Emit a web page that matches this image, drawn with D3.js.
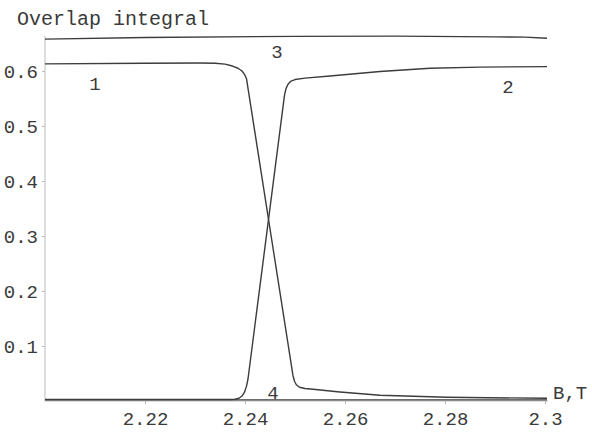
<!DOCTYPE html>
<meta charset="utf-8">
<title>Overlap integral vs B</title>
<style>
body { margin: 0; background: #fff; }
text { font-family: "Liberation Mono", "DejaVu Sans Mono", monospace; fill: #3a3a3a; }
.axis path, .axis line { fill: none; stroke: #bbb; stroke-width: 1; }
.axis text { font-size: 19px; }
.curve { fill: none; stroke: #3c3c3c; stroke-width: 1.4; stroke-linejoin: round; }
.lbl { font-size: 19px; }
</style>
<svg class="chart" width="592" height="432"></svg>
<script src="https://cdn.jsdelivr.net/npm/d3@7"></script>
<script>

// curve data: [B (T), overlap integral]
var curve1 = [[2.200,0.613],[2.220,0.6142],[2.231,0.6145],[2.234,0.614],[2.236,0.6125],[2.2375,0.609],
  [2.2386,0.605],[2.2394,0.600],[2.2399,0.594],[2.2403,0.586],[2.2496,0.046],[2.2499,0.036],[2.2503,0.029],
  [2.2509,0.025],[2.2520,0.0228],[2.2536,0.0213],[2.259,0.0164],[2.267,0.0105],[2.2804,0.0067],[2.3004,0.0049]];
var curve2 = [[2.200,0.0027],[2.237,0.0027],[2.2380,0.0032],[2.2388,0.0050],[2.2394,0.0090],[2.2399,0.0160],
  [2.2403,0.027],[2.2406,0.040],[2.2479,0.556],[2.2482,0.568],[2.2486,0.576],[2.2491,0.581],[2.2500,0.5845],
  [2.2520,0.587],[2.257,0.591],[2.267,0.599],[2.277,0.605],[2.287,0.607],[2.3004,0.608]];
var curve3 = [[2.200,0.658],[2.220,0.661],[2.250,0.663],[2.270,0.6635],[2.290,0.662],[2.296,0.6615],[2.3004,0.6595]];
var curve4 = [[2.200,0.002],[2.3004,0.002]];

var curveLabels = ["1", "2", "3", "4"];
var labelPos = [[2.210,0.577],[2.2926,0.573],[2.2464,0.635],[2.2456,0.016]];

var xTicks = [2.22, 2.24, 2.26, 2.28, 2.3];
var yTicks = [0.1, 0.2, 0.3, 0.4, 0.5, 0.6];

var xMin = 2.2, xMax = 2.3006, yMax = 0.6636;

var x = d3.scaleLinear().domain([2.2, 2.3]).range([45, 545]);
var y = d3.scaleLinear().domain([0, 0.1]).range([401, 346]);

var svg = d3.select(".chart");

svg.append("g")
    .attr("class", "axis")
    .attr("transform", "translate(0," + y(0) + ")")
    .call(d3.axisBottom(x).tickValues(xTicks).tickFormat(d3.format("")).tickSizeInner(3).tickSizeOuter(0).tickPadding(8))
    .select(".domain").attr("d", "M" + x(xMin) + ",0H" + x(xMax));

svg.append("g")
    .attr("class", "axis")
    .attr("transform", "translate(" + x(xMin) + ",0)")
    .call(d3.axisLeft(y).tickValues(yTicks).tickFormat(d3.format(".1f")).tickSizeInner(3).tickSizeOuter(0).tickPadding(4))
    .select(".domain").attr("d", "M0," + y(0) + "V" + y(yMax));

svg.selectAll(".axis .tick text").attr("fill", "#3a3a3a");

var line = d3.line()
    .x(function(d) { return x(d[0]); })
    .y(function(d) { return y(d[1]); });

svg.selectAll(".curve")
    .data([curve4, curve3, curve1, curve2])
    .enter().append("path")
    .attr("class", "curve")
    .attr("d", line);

svg.selectAll(".lbl")
    .data(curveLabels)
    .enter().append("text")
    .attr("class", "lbl")
    .attr("x", function(d, i) { return x(labelPos[i][0]); })
    .attr("y", function(d, i) { return y(labelPos[i][1]); })
    .attr("dy", "0.35em")
    .style("text-anchor", "middle")
    .text(function(d) { return d; });

// axis titles
svg.append("text")
    .attr("x", 17)
    .attr("y", 25)
    .style("font-size", "20px")
    .text("Overlap integral");

svg.append("text")
    .attr("x", x(xMax) + 5)
    .attr("y", y(0))
    .attr("dy", "-0.1em")
    .style("font-size", "19px")
    .text("B,T");

</script>
